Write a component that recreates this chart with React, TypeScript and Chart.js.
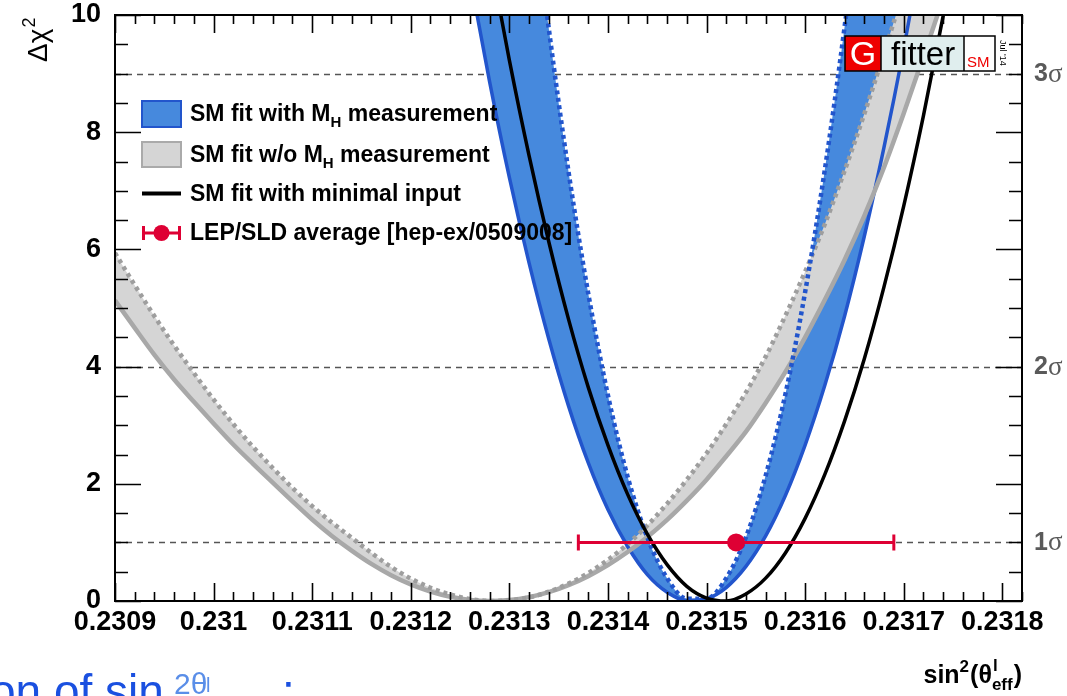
import React, { useEffect, useRef } from 'react';
import { Chart, registerables } from 'chart.js';

Chart.register(...registerables);

// ---------------- data ----------------
const X_MIN = 0.2309;
const X_MAX = 0.23182;
const Y_MIN = 0;
const Y_MAX = 10;

const X_TICKS = [0.2309, 0.231, 0.2311, 0.2312, 0.2313, 0.2314, 0.2315, 0.2316, 0.2317, 0.2318];
const X_TICK_LABELS = ['0.2309', '0.231', '0.2311', '0.2312', '0.2313', '0.2314', '0.2315', '0.2316', '0.2317', '0.2318'];
const Y_TICKS = [0, 2, 4, 6, 8, 10];
const Y_TICK_LABELS = ['0', '2', '4', '6', '8', '10'];

const SIGMA_LEVELS = [1, 4, 9];
const SIGMA_LABELS = ['1', '2', '3'];

// SM fit with M_H measurement (blue band: solid outer edge, dotted inner edge)
const BLUE_X = [
  0.23126, 0.23128, 0.2313, 0.23132, 0.23134, 0.23136, 0.23138, 0.2314, 0.23142, 0.23144, 0.23146, 0.23148,
  0.2315, 0.23152, 0.23154, 0.23156, 0.23158, 0.2316, 0.23162, 0.23164, 0.23166, 0.23168, 0.2317, 0.23172,
];
const BLUE_SOLID = [
  10.66, 8.86, 7.23, 5.77, 4.47, 3.33, 2.36, 1.56, 0.93, 0.45, 0.15, 0.01,
  0.04, 0.23, 0.59, 1.11, 1.8, 2.66, 3.68, 4.86, 6.22, 7.74, 9.42, 11.27,
];
const BLUE_DOTTED = [
  22.97, 19.15, 15.67, 12.54, 9.77, 7.33, 5.25, 3.51, 2.12, 1.08, 0.39, 0.04,
  0.04, 0.39, 1.09, 2.14, 3.53, 5.27, 7.36, 9.79, 12.57, 15.7, 19.18, 23.01,
];

// SM fit w/o M_H measurement (gray band: solid outer edge, dotted inner edge)
const GRAY_X = [
  0.2309, 0.23092, 0.23094, 0.23096, 0.23098, 0.231, 0.23102, 0.23104, 0.23106, 0.23108, 0.2311,
  0.23112, 0.23114, 0.23116, 0.23118, 0.2312, 0.23122, 0.23124, 0.23126, 0.23128, 0.2313, 0.23132,
  0.23134, 0.23136, 0.23138, 0.2314, 0.23142, 0.23144, 0.23146, 0.23148, 0.2315, 0.23152, 0.23154,
  0.23156, 0.23158, 0.2316, 0.23162, 0.23164, 0.23166, 0.23168, 0.2317, 0.23172, 0.23174, 0.23176,
];
const GRAY_SOLID = [
  5.13, 4.66, 4.2, 3.78, 3.4, 3.03, 2.67, 2.34, 2.02, 1.7, 1.39,
  1.11, 0.859, 0.632, 0.44, 0.283, 0.161, 0.072, 0.019, 0.0, 0.016, 0.066,
  0.151, 0.27, 0.424, 0.613, 0.836, 1.093, 1.385, 1.713, 2.07, 2.47, 2.89,
  3.38, 3.91, 4.5, 5.14, 5.82, 6.57, 7.4, 8.32, 9.29, 10.29, 11.35,
];
const GRAY_DOTTED = [
  5.94, 5.39, 4.86, 4.36, 3.89, 3.44, 3.02, 2.63, 2.27, 1.93, 1.62,
  1.34, 1.08, 0.822, 0.582, 0.383, 0.226, 0.11, 0.035, 0.002, 0.011, 0.062,
  0.158, 0.297, 0.478, 0.703, 0.971, 1.29, 1.66, 2.07, 2.52, 3.02, 3.56,
  4.17, 4.87, 5.62, 6.43, 7.34, 8.31, 9.35, 10.43, 11.59, 12.8, 14.08,
];

// SM fit with minimal input (black)
const BLACK_X = [
  0.23128, 0.2313, 0.23132, 0.23134, 0.23136, 0.23138, 0.2314, 0.23142, 0.23144, 0.23146, 0.23148, 0.2315,
  0.23152, 0.23154, 0.23156, 0.23158, 0.2316, 0.23162, 0.23164, 0.23166, 0.23168, 0.2317, 0.23172, 0.23174, 0.23176,
];
const BLACK_Y = [
  11.02, 9.23, 7.6, 6.13, 4.81, 3.65, 2.66, 1.82, 1.14, 0.62, 0.25, 0.05,
  0.0, 0.12, 0.39, 0.82, 1.41, 2.16, 3.07, 4.13, 5.36, 6.74, 8.28, 9.98, 11.84,
];

// LEP/SLD average
const LEP_X = [0.23153];
const LEP_Y = [1];
const LEP_LO = [0.23137];
const LEP_HI = [0.23169];

const LEGEND_LABELS = [
  ['SM fit with M', 'H', ' measurement'],
  ['SM fit w/o M', 'H', ' measurement'],
  ['SM fit with minimal input', '', ''],
  ['LEP/SLD average [hep-ex/0509008]', '', ''],
];

// ---------------- styles ----------------
const FONT = '"Liberation Sans", Arial, Helvetica, sans-serif';
const SERIF = '"Liberation Serif", "Times New Roman", serif';
const BLUE_FILL = 'rgb(70,137,221)';
const BLUE_LINE = 'rgb(34,85,204)';
const GRAY_FILL = 'rgb(213,213,213)';
const GRAY_LINE = 'rgb(168,168,168)';
const GRAY_DOT = 'rgb(158,158,158)';
const RED = 'rgb(222,0,52)';
const SIGMA_GRAY = 'rgb(90,90,90)';
const LEP_INDEX = 9;
const NONE = 'rgba(0,0,0,0)';

const pts = (xs: number[], ys: number[]) => xs.map((x, i) => ({ x, y: ys[i] }));

const decorPlugin = {
  id: 'decor',
  beforeDatasetsDraw(chart: any) {
    const { ctx, chartArea: a, scales } = chart;
    const y = scales.y;
    ctx.save();
    ctx.strokeStyle = 'rgb(85,85,85)';
    ctx.lineWidth = 1.3;
    ctx.setLineDash([6, 5]);
    SIGMA_LEVELS.forEach((v) => {
      const py = Math.round(y.getPixelForValue(v)) + 0.5;
      ctx.beginPath();
      ctx.moveTo(a.left, py);
      ctx.lineTo(a.right, py);
      ctx.stroke();
    });
    ctx.restore();
  },
  beforeDatasetDraw(chart: any, args: any) {
    if (args.index !== LEP_INDEX) return;
    const { ctx, scales } = chart;
    const x = scales.x;
    const y = scales.y;
    ctx.save();
    ctx.strokeStyle = RED;
    ctx.lineWidth = 3;
    LEP_X.forEach((_, i) => {
      const py = y.getPixelForValue(LEP_Y[i]);
      const x0 = x.getPixelForValue(LEP_LO[i]);
      const x1 = x.getPixelForValue(LEP_HI[i]);
      ctx.beginPath();
      ctx.moveTo(x0, py);
      ctx.lineTo(x1, py);
      ctx.moveTo(x0, py - 8);
      ctx.lineTo(x0, py + 8);
      ctx.moveTo(x1, py - 8);
      ctx.lineTo(x1, py + 8);
      ctx.stroke();
    });
    ctx.restore();
  },
  afterDatasetsDraw(chart: any) {
    const { ctx, chartArea: a, scales } = chart;
    const x = scales.x;
    const y = scales.y;
    ctx.save();
    // frame
    ctx.strokeStyle = '#000';
    ctx.lineWidth = 2;
    ctx.strokeRect(a.left, a.top, a.right - a.left, a.bottom - a.top);
    // x ticks (inward, bottom and top)
    ctx.lineWidth = 1.6;
    ctx.beginPath();
    for (let i = 0; i <= 46; i++) {
      const v = X_MIN + i * 0.00002;
      if (v > X_MAX + 1e-9) break;
      const px = Math.round(x.getPixelForValue(v)) + 0.5;
      const len = i % 5 === 0 ? 18 : 9;
      ctx.moveTo(px, a.bottom);
      ctx.lineTo(px, a.bottom - len);
      ctx.moveTo(px, a.top);
      ctx.lineTo(px, a.top + len);
    }
    // y ticks (inward, left and right)
    for (let i = 0; i <= 20; i++) {
      const v = Y_MIN + i * 0.5;
      const py = Math.round(y.getPixelForValue(v)) + 0.5;
      const len = i % 4 === 0 ? 26 : 13;
      ctx.moveTo(a.left, py);
      ctx.lineTo(a.left + len, py);
      ctx.moveTo(a.right, py);
      ctx.lineTo(a.right - len, py);
    }
    ctx.stroke();

    // sigma labels
    ctx.fillStyle = SIGMA_GRAY;
    ctx.textBaseline = 'middle';
    ctx.textAlign = 'left';
    SIGMA_LEVELS.forEach((v, i) => {
      const py = y.getPixelForValue(v) + 1;
      ctx.font = `bold 25px ${FONT}`;
      ctx.fillText(SIGMA_LABELS[i], a.right + 12, py);
      const w = ctx.measureText(SIGMA_LABELS[i]).width;
      ctx.font = `27px ${SERIF}`;
      ctx.fillText('σ', a.right + 12 + w, py);
    });

    // legend
    const rows = [114, 154.5, 193.5, 233];
    const bx0 = 142;
    const bx1 = 181;
    ctx.fillStyle = BLUE_FILL;
    ctx.fillRect(bx0, rows[0] - 13, bx1 - bx0, 26);
    ctx.strokeStyle = BLUE_LINE;
    ctx.lineWidth = 2;
    ctx.strokeRect(bx0, rows[0] - 13, bx1 - bx0, 26);
    ctx.fillStyle = GRAY_FILL;
    ctx.fillRect(bx0, rows[1] - 12.5, bx1 - bx0, 25);
    ctx.strokeStyle = 'rgb(170,170,170)';
    ctx.strokeRect(bx0, rows[1] - 12.5, bx1 - bx0, 25);
    ctx.strokeStyle = '#000';
    ctx.lineWidth = 4;
    ctx.beginPath();
    ctx.moveTo(bx0, rows[2]);
    ctx.lineTo(bx1, rows[2]);
    ctx.stroke();
    ctx.strokeStyle = RED;
    ctx.lineWidth = 3;
    ctx.beginPath();
    ctx.moveTo(bx0 + 1, rows[3]);
    ctx.lineTo(bx1 - 1, rows[3]);
    ctx.moveTo(bx0 + 1.5, rows[3] - 7);
    ctx.lineTo(bx0 + 1.5, rows[3] + 7);
    ctx.moveTo(bx1 - 1.5, rows[3] - 7);
    ctx.lineTo(bx1 - 1.5, rows[3] + 7);
    ctx.stroke();
    ctx.fillStyle = RED;
    ctx.beginPath();
    ctx.arc((bx0 + bx1) / 2, rows[3], 8, 0, Math.PI * 2);
    ctx.fill();
    ctx.fillStyle = '#000';
    ctx.textBaseline = 'middle';
    LEGEND_LABELS.forEach((parts, i) => {
      let tx = 190;
      const ty = rows[i] + 1;
      ctx.font = `bold 23px ${FONT}`;
      ctx.fillText(parts[0], tx, ty);
      tx += ctx.measureText(parts[0]).width;
      if (parts[1]) {
        ctx.font = `bold 15px ${FONT}`;
        ctx.fillText(parts[1], tx, ty + 8);
        tx += ctx.measureText(parts[1]).width;
      }
      if (parts[2]) {
        ctx.font = `bold 23px ${FONT}`;
        ctx.fillText(parts[2], tx, ty);
      }
    });

    // Gfitter logo
    const lx = 845;
    const ly = 36;
    const lh = 35;
    ctx.fillStyle = 'rgb(238,0,0)';
    ctx.fillRect(lx, ly, 36, lh);
    ctx.fillStyle = 'rgb(224,238,238)';
    ctx.fillRect(lx + 36, ly, 83, lh);
    ctx.fillStyle = '#fff';
    ctx.fillRect(lx + 119, ly, 31, lh);
    ctx.strokeStyle = '#000';
    ctx.lineWidth = 1.5;
    ctx.strokeRect(lx, ly, 150, lh);
    ctx.beginPath();
    ctx.moveTo(lx + 36, ly);
    ctx.lineTo(lx + 36, ly + lh);
    ctx.moveTo(lx + 119, ly);
    ctx.lineTo(lx + 119, ly + lh);
    ctx.stroke();
    ctx.textBaseline = 'alphabetic';
    ctx.textAlign = 'center';
    ctx.fillStyle = '#fff';
    ctx.font = `34px ${FONT}`;
    ctx.fillText('G', lx + 18, ly + 29);
    ctx.textAlign = 'left';
    ctx.fillStyle = '#000';
    ctx.font = `33px ${FONT}`;
    ctx.fillText('fitter', lx + 46, ly + 29);
    ctx.fillStyle = 'rgb(238,0,0)';
    ctx.font = `15px ${FONT}`;
    ctx.fillText('SM', lx + 122, ly + 31);
    ctx.save();
    ctx.translate(lx + 155, ly + 4);
    ctx.rotate(Math.PI / 2);
    ctx.fillStyle = '#000';
    ctx.font = `9px ${FONT}`;
    ctx.fillText("Jul '14", 0, 0);
    ctx.restore();

    ctx.restore();
  },
  afterDraw(chart: any) {
    const { ctx, chartArea: a } = chart;
    ctx.save();
    ctx.fillStyle = '#000';
    ctx.textBaseline = 'alphabetic';
    ctx.textAlign = 'left';
    const big = `bold 25px ${FONT}`;
    const small = `bold 17px ${FONT}`;
    ctx.font = big;
    const wSin = ctx.measureText('sin').width;
    const wOp = ctx.measureText('(').width;
    const wTh = ctx.measureText('θ').width;
    const wCl = ctx.measureText(')').width;
    ctx.font = small;
    const w2 = ctx.measureText('2').width;
    const wl = ctx.measureText('l').width;
    const wEff = ctx.measureText('eff').width;
    const total = wSin + w2 + 1 + wOp + wTh + Math.max(wl, wEff) + 1 + wCl;
    let tx = a.right - total;
    const base = 683;
    ctx.font = big;
    ctx.fillText('sin', tx, base);
    tx += wSin;
    ctx.font = small;
    ctx.fillText('2', tx, base - 11);
    tx += w2 + 1;
    ctx.font = big;
    ctx.fillText('(', tx, base);
    tx += wOp;
    ctx.fillText('θ', tx, base);
    tx += wTh;
    ctx.font = small;
    ctx.fillText('l', tx + 1, base - 12);
    ctx.fillText('eff', tx, base + 7);
    tx += Math.max(wl, wEff) + 1;
    ctx.font = big;
    ctx.fillText(')', tx, base);

    ctx.save();
    ctx.translate(47, 62);
    ctx.rotate(-Math.PI / 2);
    ctx.font = `28px ${FONT}`;
    ctx.fillText('Δχ', 0, 0);
    const wdc = ctx.measureText('Δχ').width;
    ctx.font = `18px ${FONT}`;
    ctx.fillText('2', wdc + 1, -12);
    ctx.restore();

    // cropped slide text along the bottom edge
    ctx.fillStyle = 'rgb(26,80,224)';
    ctx.font = `46px ${FONT}`;
    ctx.fillText('on of sin', -10, 707);
    ctx.fillStyle = 'rgb(90,142,232)';
    ctx.font = `30px ${FONT}`;
    ctx.fillText('2θ', 174, 694);
    ctx.font = `20px ${FONT}`;
    ctx.fillText('l', 206, 692);
    ctx.fillStyle = 'rgb(26,80,224)';
    ctx.font = `46px ${FONT}`;
    ctx.fillText(':', 282, 707);
    ctx.restore();
  },
};

export default function App() {
  const ref = useRef<HTMLCanvasElement>(null);

  useEffect(() => {
    const canvas = ref.current;
    if (!canvas) return;
    const lineBase = {
      pointRadius: 0,
      cubicInterpolationMode: 'monotone' as const,
      fill: false,
    };
    const chart = new Chart(canvas, {
      type: 'line',
      data: {
        datasets: [
          { ...lineBase, data: pts(BLUE_X, BLUE_DOTTED), fill: 1, backgroundColor: BLUE_FILL, borderColor: NONE, borderWidth: 0, order: 20 },
          { ...lineBase, data: pts(BLUE_X, BLUE_SOLID), borderColor: NONE, borderWidth: 0, order: 20 },
          { ...lineBase, data: pts(GRAY_X, GRAY_DOTTED), fill: 3, backgroundColor: GRAY_FILL, borderColor: NONE, borderWidth: 0, order: 19 },
          { ...lineBase, data: pts(GRAY_X, GRAY_SOLID), borderColor: NONE, borderWidth: 0, order: 19 },
          { ...lineBase, data: pts(BLUE_X, BLUE_SOLID), borderColor: BLUE_LINE, borderWidth: 3.5, order: 8 },
          { ...lineBase, data: pts(GRAY_X, GRAY_SOLID), borderColor: GRAY_LINE, borderWidth: 4.5, order: 7 },
          { ...lineBase, data: pts(GRAY_X, GRAY_DOTTED), borderColor: GRAY_DOT, borderWidth: 4.5, borderDash: [4, 4], order: 6 },
          { ...lineBase, data: pts(BLUE_X, BLUE_DOTTED), borderColor: BLUE_LINE, borderWidth: 4.5, borderDash: [4, 3.5], order: 5 },
          { ...lineBase, data: pts(BLACK_X, BLACK_Y), borderColor: '#000', borderWidth: 3.5, order: 4 },
          {
            data: pts(LEP_X, LEP_Y),
            showLine: false,
            pointRadius: 9,
            pointBackgroundColor: RED,
            pointBorderColor: RED,
            pointBorderWidth: 0,
            order: 1,
          },
        ],
      },
      options: {
        responsive: false,
        animation: false,
        events: [],
        layout: { padding: { left: 0, right: 45, top: 15, bottom: 0 } },
        plugins: {
          legend: { display: false },
          tooltip: { enabled: false },
        },
        scales: {
          x: {
            type: 'linear',
            min: X_MIN,
            max: X_MAX,
            grid: { display: false, drawTicks: false },
            border: { display: false },
            afterBuildTicks: (s: any) => {
              s.ticks = X_TICKS.map((v) => ({ value: v }));
            },
            afterFit: (s: any) => {
              s.height = 95;
              s.paddingLeft = 0;
              s.paddingRight = 0;
              s.paddingTop = 0;
              s.paddingBottom = 0;
            },
            ticks: {
              autoSkip: false,
              maxRotation: 0,
              minRotation: 0,
              padding: 8,
              color: '#000',
              font: { family: FONT, size: 27, weight: 'bold', lineHeight: 1 },
              callback: (_v: any, i: number) => X_TICK_LABELS[i],
            },
          },
          y: {
            type: 'linear',
            min: Y_MIN,
            max: Y_MAX,
            grid: { display: false, drawTicks: false },
            border: { display: false },
            afterBuildTicks: (s: any) => {
              s.ticks = Y_TICKS.map((v) => ({ value: v }));
            },
            afterFit: (s: any) => {
              s.width = 115;
              s.paddingLeft = 0;
              s.paddingRight = 0;
              s.paddingTop = 0;
              s.paddingBottom = 0;
            },
            ticks: {
              autoSkip: false,
              padding: 14,
              color: '#000',
              font: { family: FONT, size: 27, weight: 'bold', lineHeight: 1 },
              callback: (_v: any, i: number) => Y_TICK_LABELS[i],
            },
          },
        },
      },
      plugins: [decorPlugin],
    } as any);
    return () => chart.destroy();
  }, []);

  return (
    <div style={{ position: 'fixed', left: 0, top: 0, width: 1067, height: 696, background: '#fff', overflow: 'hidden' }}>
      <canvas ref={ref} width={1067} height={696} style={{ display: 'block' }} />
    </div>
  );
}
